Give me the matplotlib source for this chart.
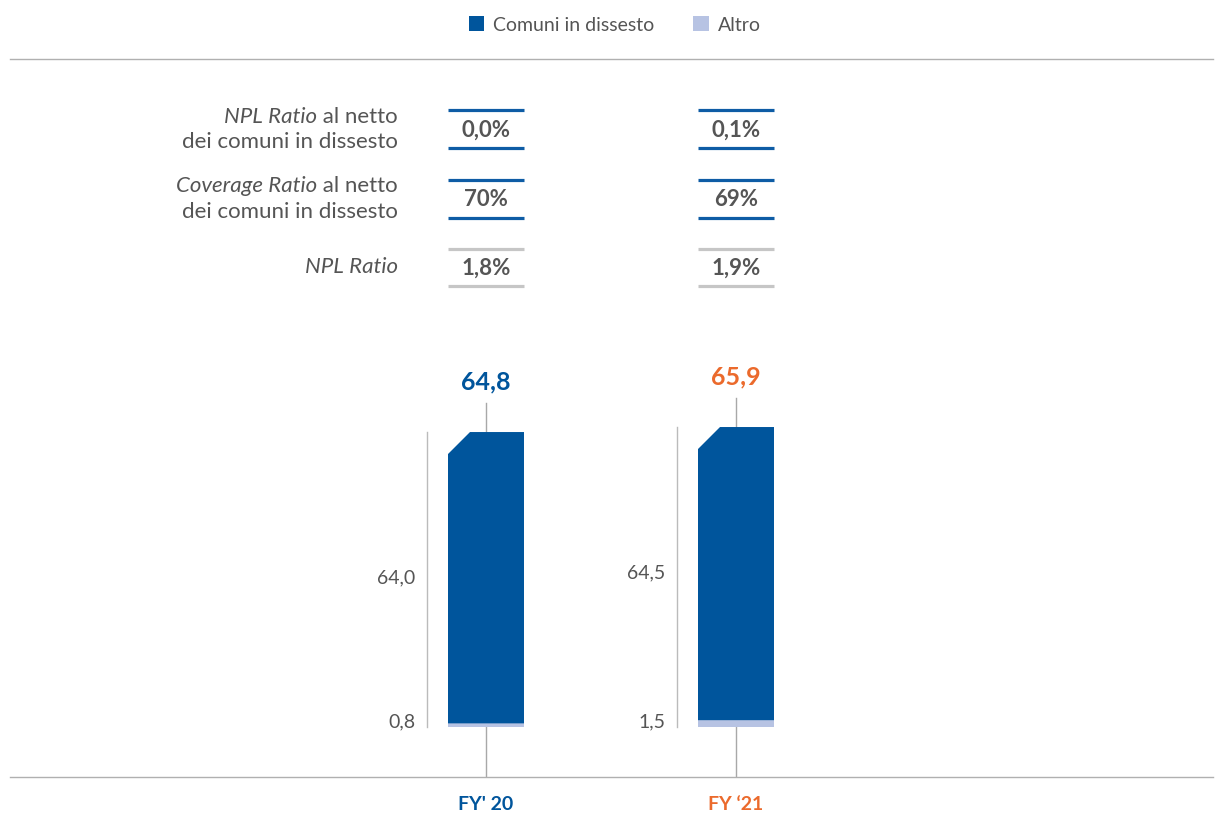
import matplotlib
matplotlib.use("Agg")
import matplotlib.pyplot as plt
from matplotlib.patches import Polygon, Patch
import matplotlib.transforms as mtransforms

# ---------------- data ----------------
categories = ["FY' 20", "FY \u201821"]
comuni = [64.0, 64.5]
altro = [0.8, 1.5]
totals = [64.8, 65.9]
comuni_lbl = ["64,0", "64,5"]
altro_lbl = ["0,8", "1,5"]
total_lbl = ["64,8", "65,9"]
npl_netto = ["0,0%", "0,1%"]
coverage_netto = ["70%", "69%"]
npl_ratio = ["1,8%", "1,9%"]

# ---------------- style ----------------
BLUE = "#00559C"
LIGHT = "#B7C3E3"
ORANGE = "#EB6A2C"
GREY_TXT = "#555555"
GREY_LINE = "#A8A8A8"
TBL_BLUE = "#0E5CA5"
TBL_GREY = "#C6C6C6"
cat_colors = [BLUE, ORANGE]
total_colors = [BLUE, ORANGE]
FONT = ["Lato", "DejaVu Sans"]
plt.rcParams["font.family"] = FONT

W, H = 1215, 816
fig = plt.figure(figsize=(W / 100, H / 100), dpi=100)

# axes spanning between the two horizontal rules
px_per_unit = 4.552
x0_px, step_px = 486, 250
left_px, right_px, top_px, bot_px, zero_px = 10, 1213, 59, 777, 727
ax = fig.add_axes([left_px / W, (H - bot_px) / H, (right_px - left_px) / W, (bot_px - top_px) / H])
ax.set_xlim((left_px - x0_px) / step_px, (right_px - x0_px) / step_px)
ax.set_ylim(-(bot_px - zero_px) / px_per_unit, (zero_px - top_px) / px_per_unit)
for s in ["left", "right"]:
    ax.spines[s].set_visible(False)
for s in ["top", "bottom"]:
    ax.spines[s].set_color("#B0B0B0")
    ax.spines[s].set_linewidth(1.0)
ax.set_xticks([])
ax.set_yticks([])

bw = 76 / step_px
xs = list(range(len(categories)))

# Altro segment
ax.bar(xs, altro, width=bw, color=LIGHT, zorder=3)

# Comuni segment with chamfered top-left corner
cx = 22 / step_px
cy = 22 / px_per_unit
for i in xs:
    l, r = i - bw / 2, i + bw / 2
    b, t = altro[i], totals[i]
    poly = Polygon([(l, b), (r, b), (r, t), (l + cx, t), (l, t - cy)],
                   closed=True, facecolor=BLUE, edgecolor="none", lw=0, zorder=3)
    ax.add_patch(poly)

ybot = ax.get_ylim()[0]
for i in xs:
    # stems
    ax.plot([i, i], [ybot, 0], color=GREY_LINE, lw=1, zorder=1)
    ax.plot([i, i], [totals[i], totals[i] + 29 / px_per_unit], color=GREY_LINE, lw=1, zorder=1)
    # side span line
    lx = i - 59 / step_px
    ax.plot([lx, lx], [0, totals[i]], color="#BBBBBB", lw=1, zorder=1)
    ax.text(lx - 12 / step_px, altro[i] + comuni[i] / 2, comuni_lbl[i], ha="right", va="center",
            fontsize=14, color=GREY_TXT)
    ax.text(lx - 12 / step_px, 0, altro_lbl[i], ha="right", va="baseline",
            fontsize=14, color=GREY_TXT)
    # total label
    ax.text(i, totals[i] + 43 / px_per_unit, total_lbl[i], ha="center", va="baseline",
            fontsize=18, fontweight="bold", color=total_colors[i])

# category labels below axes
trans_xf = mtransforms.blended_transform_factory(ax.transData, fig.transFigure)
def fy(p):
    return 1 - p / H

for i in xs:
    ax.text(i, fy(805), categories[i], transform=trans_xf, ha="center", va="center",
            fontsize=14, fontweight="bold", color=cat_colors[i], clip_on=False)

# ---------------- table ----------------
rows = [
    (npl_netto, TBL_BLUE, 110, 148, 130),
    (coverage_netto, TBL_BLUE, 180, 218, 200),
    (npl_ratio, TBL_GREY, 249, 286, 268),
]
for vals, lc, ytop, ybt, yv in rows:
    for i in xs:
        for yy in (ytop, ybt):
            ax.plot([i - bw / 2, i + bw / 2], [fy(yy), fy(yy)], transform=trans_xf,
                    color=lc, lw=2.3, solid_capstyle="butt", clip_on=False)
        ax.text(i, fy(yv), vals[i], transform=trans_xf, ha="center", va="center",
                fontsize=16, fontweight="bold", color=GREY_TXT, clip_on=False)

lab_x = 398 / W
def rich(y, parts):
    # draw right-aligned mixed-style text: parts = [(text, style), ...] drawn right to left
    renderer = fig.canvas.get_renderer()
    x = lab_x
    for txt, style in reversed(parts):
        t = fig.text(x, fy(y), txt, ha="right", va="center", fontsize=16,
                     style=style, color=GREY_TXT)
        bb = t.get_window_extent(renderer=renderer)
        x = x - bb.width / W

rich(117, [("NPL Ratio", "italic"), (" al netto", "normal")])
rich(142, [("dei comuni in dissesto", "normal")])
rich(186, [("Coverage Ratio", "italic"), (" al netto", "normal")])
rich(212, [("dei comuni in dissesto", "normal")])
rich(267, [("NPL Ratio", "italic")])

# ---------------- legend ----------------
handles = [Patch(facecolor=BLUE, edgecolor="none"), Patch(facecolor=LIGHT, edgecolor="none")]
fig.legend(handles, ["Comuni in dissesto", "Altro"], loc="center", bbox_to_anchor=(0.506, fy(25)),
           ncol=2, frameon=False, fontsize=14, handlelength=0.8, handleheight=0.8,
           handletextpad=0.45, columnspacing=2.0, labelcolor=GREY_TXT)

fig.savefig("out.png", dpi=100)
